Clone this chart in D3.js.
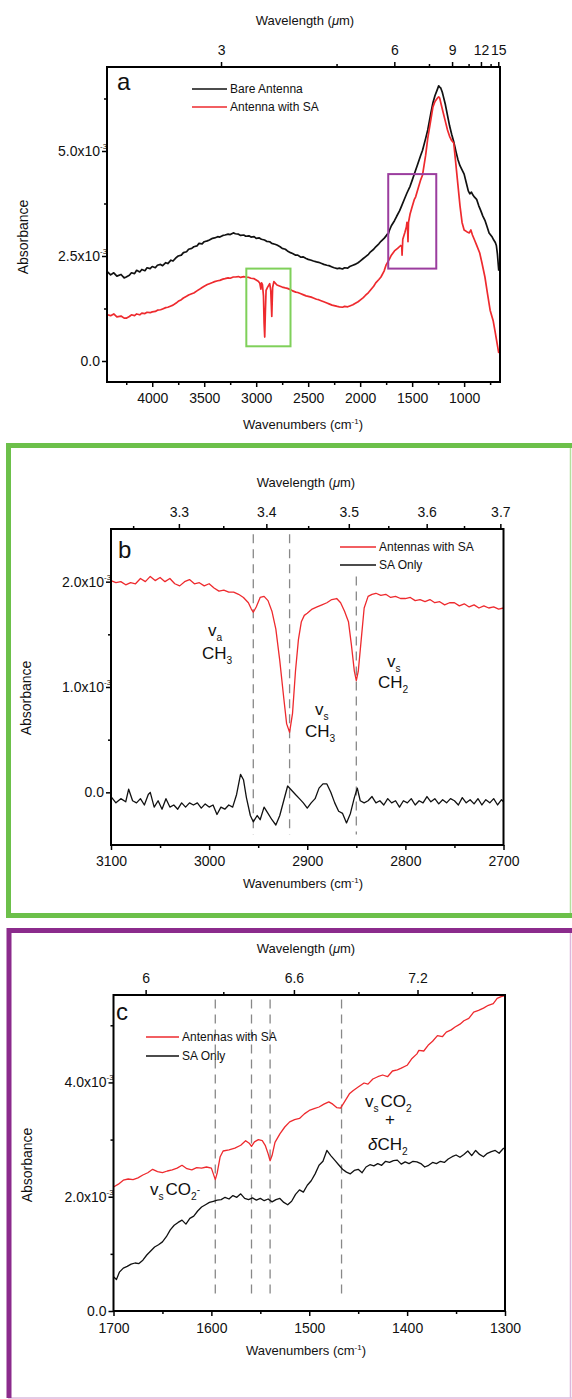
<!DOCTYPE html>
<html>
<head>
<meta charset="utf-8">
<script src="https://cdn.jsdelivr.net/npm/d3@7"></script>
<style>
body { margin: 0; background: #fff; }
svg { display: block; }
</style>
</head>
<body>
<script>
// values in units of 1e-3 absorbance, x = wavenumber (cm-1)
var aBare = [[4430,2.12],[4400,2.05],[4370,2.10],[4340,2.02],[4300,2.06],[4270,1.98],[4250,2.00],[4220,2.04],[4200,2.10],[4170,2.08],[4150,2.16],[4120,2.12],[4100,2.18],[4070,2.15],[4050,2.22],[4020,2.20],[4000,2.25],[3970,2.22],[3950,2.28],[3920,2.30],[3900,2.27],[3870,2.34],[3850,2.32],[3820,2.40],[3800,2.38],[3770,2.46],[3750,2.50],[3720,2.52],[3700,2.58],[3670,2.60],[3650,2.66],[3620,2.68],[3600,2.72],[3570,2.74],[3550,2.80],[3520,2.79],[3500,2.84],[3470,2.86],[3450,2.88],[3420,2.92],[3400,2.93],[3370,2.96],[3350,2.95],[3320,2.99],[3300,3.00],[3270,3.02],[3250,3.01],[3220,3.05],[3200,3.03],[3170,3.02],[3150,2.99],[3120,3.00],[3100,2.97],[3070,2.98],[3050,2.95],[3020,2.96],[3000,2.92],[2970,2.93],[2950,2.90],[2920,2.88],[2900,2.85],[2870,2.84],[2850,2.80],[2820,2.78],[2800,2.76],[2770,2.72],[2750,2.68],[2720,2.66],[2700,2.62],[2670,2.58],[2650,2.56],[2620,2.52],[2600,2.52],[2570,2.47],[2550,2.48],[2520,2.44],[2500,2.42],[2470,2.40],[2450,2.38],[2420,2.36],[2400,2.35],[2370,2.32],[2350,2.30],[2320,2.28],[2300,2.27],[2270,2.24],[2250,2.22],[2220,2.20],[2200,2.21],[2170,2.19],[2150,2.22],[2120,2.21],[2100,2.25],[2070,2.28],[2050,2.30],[2020,2.34],[2000,2.38],[1970,2.44],[1950,2.48],[1920,2.54],[1900,2.60],[1870,2.66],[1850,2.72],[1820,2.79],[1800,2.85],[1770,2.92],[1750,2.98],[1740,3.02],[1730,3.02],[1720,3.10],[1700,3.22],[1670,3.34],[1650,3.44],[1620,3.58],[1600,3.70],[1570,3.88],[1550,4.00],[1520,4.16],[1500,4.30],[1470,4.52],[1450,4.66],[1420,4.88],[1400,5.02],[1370,5.30],[1350,5.50],[1320,5.90],[1300,6.15],[1280,6.32],[1260,6.45],[1245,6.55],[1235,6.52],[1225,6.50],[1210,6.40],[1200,6.30],[1180,6.10],[1160,5.85],[1140,5.60],[1120,5.40],[1100,5.22],[1080,5.00],[1060,4.80],[1040,4.65],[1020,4.55],[1000,4.45],[980,4.25],[960,4.05],[945,3.98],[930,4.02],[915,3.95],[900,3.90],[880,3.85],[860,3.70],[840,3.58],[820,3.45],[800,3.35],[780,3.20],[760,3.05],[745,3.00],[730,2.95],[715,2.88],[700,2.82],[690,2.75],[680,2.55],[667,2.15]];

var aWithSA = [[4430,1.10],[4400,1.08],[4370,1.12],[4340,1.05],[4300,1.07],[4270,1.02],[4250,1.02],[4220,1.06],[4200,1.10],[4170,1.08],[4150,1.12],[4120,1.10],[4100,1.14],[4070,1.13],[4050,1.16],[4020,1.15],[4000,1.17],[3970,1.18],[3950,1.21],[3920,1.22],[3900,1.24],[3870,1.27],[3850,1.28],[3820,1.31],[3800,1.33],[3770,1.38],[3750,1.42],[3720,1.46],[3700,1.50],[3670,1.54],[3650,1.57],[3620,1.60],[3600,1.62],[3570,1.67],[3550,1.70],[3520,1.75],[3500,1.78],[3470,1.82],[3450,1.84],[3420,1.87],[3400,1.89],[3370,1.91],[3350,1.92],[3320,1.95],[3300,1.96],[3270,1.98],[3250,1.97],[3220,2.00],[3200,2.00],[3170,2.01],[3150,1.99],[3120,2.01],[3100,2.00],[3070,1.99],[3050,1.97],[3020,1.96],[3000,1.93],[2980,1.90],[2965,1.85],[2955,1.71],[2948,1.86],[2940,1.82],[2930,1.55],[2924,0.90],[2918,0.57],[2912,1.15],[2905,1.68],[2890,1.76],[2870,1.84],[2860,1.68],[2850,1.06],[2842,1.75],[2830,1.89],[2800,1.81],[2770,1.78],[2750,1.76],[2720,1.74],[2700,1.73],[2670,1.70],[2650,1.67],[2620,1.64],[2600,1.63],[2570,1.60],[2550,1.58],[2520,1.55],[2500,1.54],[2470,1.52],[2450,1.50],[2420,1.47],[2400,1.46],[2370,1.43],[2350,1.41],[2320,1.38],[2300,1.36],[2270,1.33],[2250,1.32],[2220,1.30],[2200,1.29],[2170,1.28],[2150,1.30],[2120,1.29],[2100,1.31],[2070,1.34],[2050,1.37],[2020,1.41],[2000,1.45],[1970,1.51],[1950,1.56],[1920,1.63],[1900,1.69],[1870,1.78],[1850,1.86],[1820,1.94],[1800,2.00],[1770,2.14],[1750,2.29],[1720,2.42],[1700,2.52],[1670,2.62],[1640,2.68],[1610,2.75],[1600,2.72],[1597,2.52],[1590,2.90],[1570,3.06],[1555,3.20],[1550,3.30],[1545,3.24],[1540,2.84],[1535,3.30],[1520,3.50],[1500,3.67],[1480,3.84],[1466,3.91],[1450,4.05],[1420,4.30],[1400,4.43],[1370,4.90],[1350,5.30],[1320,5.75],[1300,6.05],[1280,6.18],[1260,6.25],[1245,6.29],[1235,6.26],[1220,6.10],[1200,5.90],[1180,5.70],[1160,5.50],[1140,5.35],[1120,5.25],[1100,5.19],[1080,4.70],[1060,4.20],[1040,3.70],[1020,3.30],[1000,3.12],[975,3.08],[950,3.05],[935,3.12],[920,3.00],[900,2.88],[880,2.76],[850,2.57],[830,2.35],[800,2.00],[775,1.60],[750,1.21],[720,0.95],[700,0.67],[685,0.45],[667,0.19]];

var bWithSA = [[3100,2.01],[3095,1.99],[3090,2.00],[3085,1.97],[3080,1.99],[3075,1.98],[3070,2.03],[3065,2.00],[3060,2.05],[3055,2.01],[3050,2.04],[3045,2.00],[3040,2.03],[3035,1.98],[3030,1.96],[3025,2.00],[3020,2.02],[3015,1.98],[3010,1.99],[3005,1.96],[3000,1.98],[2995,1.94],[2990,1.91],[2985,1.92],[2980,1.90],[2975,1.90],[2970,1.88],[2965,1.85],[2960,1.80],[2957,1.74],[2955,1.71],[2952,1.76],[2948,1.85],[2944,1.86],[2940,1.82],[2936,1.72],[2932,1.55],[2928,1.25],[2924,0.90],[2921,0.65],[2918,0.57],[2915,0.75],[2912,1.15],[2909,1.45],[2906,1.62],[2903,1.68],[2900,1.70],[2895,1.74],[2890,1.76],[2885,1.78],[2880,1.80],[2875,1.83],[2870,1.84],[2866,1.80],[2862,1.72],[2858,1.62],[2855,1.40],[2852,1.15],[2850,1.06],[2848,1.15],[2845,1.45],[2842,1.75],[2838,1.86],[2834,1.88],[2830,1.89],[2825,1.87],[2820,1.88],[2815,1.85],[2810,1.86],[2805,1.84],[2800,1.84],[2795,1.85],[2790,1.82],[2785,1.83],[2780,1.81],[2775,1.83],[2770,1.80],[2765,1.81],[2760,1.78],[2755,1.80],[2750,1.80],[2745,1.77],[2740,1.79],[2735,1.76],[2730,1.78],[2725,1.75],[2720,1.77],[2715,1.75],[2710,1.76],[2705,1.74],[2700,1.75]];

var bSAOnly = [[3100,-0.04],[3095,-0.10],[3090,-0.06],[3085,-0.09],[3082,0.03],[3078,-0.08],[3074,-0.10],[3070,-0.06],[3066,-0.12],[3062,-0.02],[3060,0.00],[3056,-0.14],[3052,-0.08],[3048,-0.16],[3044,-0.06],[3040,-0.14],[3036,-0.12],[3032,-0.16],[3028,-0.10],[3024,-0.14],[3020,-0.10],[3016,-0.12],[3012,-0.10],[3008,-0.15],[3004,-0.11],[3000,-0.14],[2996,-0.12],[2992,-0.21],[2988,-0.14],[2984,-0.16],[2980,-0.12],[2976,-0.14],[2972,-0.02],[2968,0.17],[2965,0.12],[2962,-0.05],[2958,-0.22],[2955,-0.28],[2951,-0.22],[2948,-0.26],[2944,-0.14],[2940,-0.20],[2936,-0.26],[2932,-0.31],[2928,-0.22],[2924,-0.08],[2920,0.06],[2916,0.02],[2912,-0.02],[2908,-0.06],[2904,-0.10],[2900,-0.15],[2896,-0.10],[2892,-0.06],[2888,0.04],[2884,0.08],[2880,0.08],[2876,0.00],[2872,-0.10],[2868,-0.18],[2864,-0.20],[2860,-0.29],[2856,-0.20],[2852,-0.05],[2849,0.04],[2846,-0.08],[2842,-0.10],[2838,-0.08],[2834,-0.04],[2830,-0.10],[2826,-0.08],[2822,-0.12],[2818,-0.06],[2814,-0.10],[2810,-0.08],[2806,-0.14],[2802,-0.08],[2798,-0.10],[2794,-0.06],[2790,-0.12],[2786,-0.08],[2782,-0.10],[2778,-0.04],[2774,-0.09],[2770,-0.06],[2766,-0.11],[2762,-0.07],[2758,-0.10],[2754,-0.06],[2750,-0.08],[2746,-0.12],[2742,-0.05],[2738,-0.10],[2734,-0.07],[2730,-0.11],[2726,-0.06],[2722,-0.12],[2718,-0.07],[2714,-0.10],[2710,-0.06],[2706,-0.12],[2702,-0.07],[2700,-0.09]];

var cWithSA = [[1700,2.17],[1695,2.22],[1690,2.29],[1685,2.31],[1680,2.30],[1675,2.33],[1670,2.38],[1665,2.42],[1660,2.48],[1655,2.44],[1650,2.42],[1645,2.45],[1640,2.47],[1635,2.50],[1630,2.55],[1625,2.49],[1620,2.47],[1615,2.51],[1610,2.50],[1605,2.52],[1600,2.50],[1598,2.40],[1596,2.30],[1594,2.42],[1591,2.70],[1588,2.80],[1582,2.82],[1576,2.85],[1570,2.90],[1565,2.98],[1561,2.93],[1559,2.88],[1556,2.96],[1552,3.00],[1548,2.98],[1545,2.90],[1542,2.75],[1540,2.63],[1538,2.72],[1535,2.95],[1530,3.10],[1525,3.22],[1520,3.31],[1515,3.35],[1510,3.37],[1505,3.45],[1500,3.51],[1495,3.54],[1490,3.57],[1485,3.62],[1480,3.66],[1476,3.62],[1472,3.56],[1468,3.55],[1464,3.66],[1459,3.80],[1455,3.86],[1450,3.92],[1444,3.99],[1440,3.97],[1435,4.06],[1430,4.10],[1425,4.13],[1420,4.10],[1415,4.20],[1410,4.22],[1406,4.25],[1400,4.30],[1395,4.42],[1390,4.50],[1388,4.56],[1383,4.55],[1378,4.66],[1374,4.72],[1369,4.82],[1364,4.80],[1360,4.88],[1355,4.92],[1351,4.97],[1346,5.02],[1342,5.08],[1337,5.12],[1332,5.23],[1327,5.26],[1322,5.30],[1317,5.35],[1312,5.38],[1308,5.47],[1304,5.50],[1300,5.52]];

var cSAOnly = [[1700,0.60],[1697,0.55],[1694,0.68],[1690,0.75],[1686,0.78],[1682,0.82],[1678,0.84],[1674,0.83],[1670,0.89],[1666,0.98],[1662,1.05],[1658,1.12],[1654,1.16],[1650,1.21],[1646,1.30],[1642,1.42],[1638,1.50],[1634,1.55],[1630,1.59],[1626,1.52],[1622,1.62],[1618,1.66],[1614,1.75],[1610,1.82],[1606,1.86],[1602,1.90],[1598,1.92],[1594,1.94],[1590,1.95],[1586,1.99],[1582,1.96],[1578,2.02],[1574,1.99],[1570,2.05],[1566,1.97],[1562,1.95],[1558,1.98],[1554,1.94],[1550,1.97],[1546,1.93],[1542,1.96],[1538,1.91],[1534,1.95],[1530,1.97],[1526,1.90],[1522,1.86],[1518,1.92],[1514,2.04],[1510,2.12],[1506,2.08],[1502,2.20],[1498,2.28],[1494,2.40],[1490,2.55],[1486,2.62],[1482,2.81],[1478,2.72],[1474,2.64],[1470,2.56],[1466,2.48],[1462,2.43],[1458,2.40],[1454,2.46],[1450,2.48],[1446,2.42],[1442,2.52],[1438,2.56],[1434,2.54],[1430,2.58],[1426,2.55],[1422,2.62],[1418,2.60],[1414,2.63],[1410,2.64],[1406,2.57],[1402,2.61],[1398,2.58],[1394,2.62],[1390,2.61],[1386,2.58],[1382,2.52],[1378,2.55],[1374,2.60],[1370,2.58],[1366,2.62],[1362,2.60],[1358,2.66],[1354,2.70],[1350,2.73],[1346,2.69],[1342,2.74],[1338,2.80],[1334,2.72],[1330,2.81],[1326,2.74],[1322,2.70],[1318,2.76],[1314,2.79],[1310,2.81],[1306,2.76],[1302,2.84],[1300,2.86]];

// ticks
var aWnMajor = [4000, 3500, 3000, 2500, 2000, 1500, 1000];
var aWnMinor = [4250, 3750, 3250, 2750, 2250, 1750, 1250, 750];
var aAbsMajor = [0, 2.5, 5.0];
var aAbsMinor = [1.25, 3.75, 6.25];
var aLamMajor = [3, 6, 9, 12, 15];
var aLamMinor = [4.5, 7.5, 10.5, 13.5];

var bWnMajor = [3100, 3000, 2900, 2800, 2700];
var bWnMinor = [3050, 2950, 2850, 2750];
var bAbsMajor = [0, 1.0, 2.0];
var bAbsMinor = [0.5, 1.5];
var bLamMajor = [3.3, 3.4, 3.5, 3.6, 3.7];
var bLamMinor = [3.25, 3.35, 3.45, 3.55, 3.65];
var bPeaks = [[2955, 2.45], [2918, 2.45], [2850, 2.05]]; // wavenumber, top of dashed guide

var cWnMajor = [1700, 1600, 1500, 1400, 1300];
var cWnMinor = [1650, 1550, 1450, 1350];
var cAbsMajor = [0, 2.0, 4.0];
var cAbsMinor = [1.0, 3.0, 5.0];
var cLamMajor = [6, 6.6, 7.2];
var cLamMinor = [6.3, 6.9, 7.5];
var cPeaks = [[1596, 5.45], [1559, 5.45], [1540, 5.45], [1467, 5.45]];

var FONT = '"Liberation Sans", Arial, sans-serif';
var RED = "#ee2a2e";
var BLK = "#111";

var svg = d3.select("body").append("svg").attr("width", 572).attr("height", 1399)
    .style("font-family", FONT);

// coloured frames round panels b and c
function frame(y0, y1, dark, light, thickBottom) {
    var g = svg.append("g");
    g.append("line").attr("x1", 570.5).attr("x2", 570.5).attr("y1", y0).attr("y2", y1)
        .attr("stroke", light).attr("stroke-width", 1.5);
    if (thickBottom) {
        g.append("path").attr("d", "M8.5," + y1 + "V" + (y0 + 2.5) + "H572 M8.5," + (y1 - 2.5) + "H572")
            .attr("fill", "none").attr("stroke", dark).attr("stroke-width", 5);
    } else {
        g.append("line").attr("x1", 8).attr("x2", 572).attr("y1", y1).attr("y2", y1)
            .attr("stroke", light).attr("stroke-width", 1.5);
        g.append("path").attr("d", "M9," + y1 + "V" + (y0 + 2.5) + "H572")
            .attr("fill", "none").attr("stroke", dark).attr("stroke-width", 5);
    }
}
frame(443, 918, "#6cc04a", "#b4e09e", true);
frame(928, 1398, "#8b2b8c", "#dcb8dc", false);

function richText(g, x, y, parts, size) {
    var t = g.append("text").attr("x", x).attr("y", y).attr("font-size", size).attr("fill", "#111");
    parts.forEach(function(p) {
        var s = t.append("tspan").text(p.t);
        if (p.sub) s.attr("font-size", size * 0.6).attr("dy", size * 0.3);
        if (p.up) s.attr("font-size", size * 0.6).attr("dy", -size * 0.45);
        if (p.back) s.attr("dy", p.back);
        if (p.it) s.attr("font-style", "italic");
        if (p.dx) s.attr("dx", p.dx);
    });
    return t;
}

function panel(c) {
    var x = d3.scaleLinear().domain(c.xDom).range([c.left, c.right]);
    var y = d3.scaleLinear().domain(c.yDom).range([c.bottom, c.top]);
    var g = svg.append("g");

    // bottom axis
    var bx = g.append("g").attr("transform", "translate(0," + c.bottom + ")")
        .call(d3.axisBottom(x).tickValues(c.wnMajor).tickSize(5).tickPadding(c.pad).tickFormat(d3.format("d")));
    g.append("g").attr("transform", "translate(0," + c.bottom + ")")
        .call(d3.axisBottom(x).tickValues(c.wnMinor).tickSize(3).tickFormat(""));
    // left axis
    g.append("g").attr("transform", "translate(" + c.left + ",0)")
        .call(d3.axisLeft(y).tickValues(c.absMajor).tickSize(5).tickFormat(""));
    g.append("g").attr("transform", "translate(" + c.left + ",0)")
        .call(d3.axisLeft(y).tickValues(c.absMinor).tickSize(3).tickFormat(""));
    g.selectAll(".domain").remove();
    g.selectAll(".tick line").attr("stroke", "#000").attr("stroke-width", 1.5);
    bx.selectAll("text").attr("font-size", 14).attr("font-family", FONT).attr("fill", "#111");

    // left labels with x10^-3
    c.absMajor.forEach(function(v) {
        if (v === 0) {
            g.append("text").attr("x", c.left - 7).attr("y", y(v) + 5).attr("text-anchor", "end")
                .attr("font-size", 14).attr("fill", "#111").text("0.0");
        } else {
            g.append("text").attr("x", c.left - 7).attr("y", y(v) + 5).attr("text-anchor", "end")
                .attr("font-size", 14).attr("fill", "#111").text(d3.format(".1f")(v) + "x10");
            g.append("text").attr("x", c.left - 7).attr("y", y(v) - 2)
                .attr("font-size", 8).attr("fill", "#111").text("-3");
        }
    });

    // top wavelength axis
    var wl = function(l) { return x(1e4 / l); };
    g.selectAll(".tmaj").data(c.lamMajor).enter().append("line")
        .attr("x1", wl).attr("x2", wl).attr("y1", c.top).attr("y2", c.top - 5)
        .attr("stroke", "#000").attr("stroke-width", 1.5);
    g.selectAll(".tmin").data(c.lamMinor).enter().append("line")
        .attr("x1", wl).attr("x2", wl).attr("y1", c.top).attr("y2", c.top - 3)
        .attr("stroke", "#000").attr("stroke-width", 1.5);
    g.selectAll(".tlab").data(c.lamMajor).enter().append("text")
        .attr("x", wl).attr("y", c.top - 12).attr("text-anchor", "middle")
        .attr("font-size", 14).attr("fill", "#111").text(function(d) { return d; });

    // titles
    var tt = g.append("text").attr("x", c.tCx).attr("y", c.top - 42).attr("text-anchor", "middle")
        .attr("font-size", 13).attr("fill", "#111");
    tt.append("tspan").text("Wavelength (");
    tt.append("tspan").attr("font-style", "italic").text("\u03bc");
    tt.append("tspan").text("m)");
    var bt = g.append("text").attr("x", c.bCx).attr("y", c.bottom + c.bTy).attr("text-anchor", "middle")
        .attr("font-size", 13).attr("fill", "#111");
    bt.append("tspan").text("Wavenumbers (cm");
    bt.append("tspan").attr("font-size", 8).attr("dy", -5).text("-1");
    bt.append("tspan").attr("dy", 5).text(")");
    g.append("text").attr("transform", "translate(" + c.yTx + "," + c.yTy + ") rotate(-90)")
        .attr("text-anchor", "middle").attr("font-size", 14).attr("fill", "#111").text("Absorbance");

    // dashed guides
    if (c.peaks) {
        g.selectAll(".pk").data(c.peaks).enter().append("line")
            .attr("x1", function(d) { return x(d[0]); }).attr("x2", function(d) { return x(d[0]); })
            .attr("y1", function(d) { return y(d[1]); }).attr("y2", y(c.dashBottom))
            .attr("stroke", "#888").attr("stroke-width", 1.3).attr("stroke-dasharray", "9,6");
    }

    // spectra
    var line = d3.line().x(function(d) { return x(d[0]); }).y(function(d) { return y(d[1]); });
    c.series.forEach(function(s) {
        g.append("path").datum(s.data).attr("d", line).attr("fill", "none")
            .attr("stroke", s.color).attr("stroke-width", c.lw).attr("stroke-linejoin", "round");
    });

    // frame
    g.append("rect").attr("x", c.left).attr("y", c.top).attr("width", c.right - c.left)
        .attr("height", c.bottom - c.top).attr("fill", "none").attr("stroke", "#000").attr("stroke-width", 2);

    // legend
    c.series.forEach(function(s, i) {
        var ly = c.legY[i];
        g.append("line").attr("x1", c.legX[0]).attr("x2", c.legX[1]).attr("y1", ly).attr("y2", ly)
            .attr("stroke", s.color).attr("stroke-width", 1.3);
        g.append("text").attr("x", c.legX[1] + 3).attr("y", ly + 4).attr("font-size", 12)
            .attr("fill", "#111").text(s.name);
    });

    g.append("text").attr("x", c.letter[0]).attr("y", c.letter[1]).attr("font-size", 24)
        .attr("fill", "#111").text(c.letterText);

    return { g: g, x: x, y: y };
}

var pa = panel({
    left: 107, right: 500, top: 67, bottom: 382, xDom: [4435, 655], yDom: [-0.5, 7.0], pad: 6, lw: 1.7,
    wnMajor: aWnMajor, wnMinor: aWnMinor, absMajor: aAbsMajor, absMinor: aAbsMinor,
    lamMajor: aLamMajor, lamMinor: aLamMinor,
    tCx: 305, bCx: 303, bTy: 47, yTx: 28, yTy: 237,
    series: [{ name: "Bare Antenna", color: BLK, data: aBare }, { name: "Antenna with SA", color: RED, data: aWithSA }],
    legX: [192, 227], legY: [89, 107], letter: [117, 90], letterText: "a"
});
// zoom boxes on panel a
pa.g.append("rect").attr("x", pa.x(3095)).attr("y", pa.y(2.2))
    .attr("width", pa.x(2670) - pa.x(3095)).attr("height", pa.y(0.35) - pa.y(2.2))
    .attr("fill", "none").attr("stroke", "#7fd05a").attr("stroke-width", 2);
pa.g.append("rect").attr("x", pa.x(1730)).attr("y", pa.y(4.45))
    .attr("width", pa.x(1268) - pa.x(1730)).attr("height", pa.y(2.2) - pa.y(4.45))
    .attr("fill", "none").attr("stroke", "#9b3d9e").attr("stroke-width", 2);

var pb = panel({
    left: 111, right: 503.5, top: 529, bottom: 845, xDom: [3100, 2700], yDom: [-0.5, 2.5], pad: 6, lw: 1.3,
    wnMajor: bWnMajor, wnMinor: bWnMinor, absMajor: bAbsMajor, absMinor: bAbsMinor,
    lamMajor: bLamMajor, lamMinor: bLamMinor,
    tCx: 306, bCx: 303, bTy: 43, yTx: 31, yTy: 698,
    peaks: bPeaks, dashBottom: -0.4,
    series: [{ name: "Antennas with SA", color: RED, data: bWithSA }, { name: "SA Only", color: BLK, data: bSAOnly }],
    legX: [340, 376], legY: [547, 565], letter: [118, 558], letterText: "b"
});
richText(pb.g, 208, 636, [{ t: "v" }, { t: "a", sub: true }], 17);
richText(pb.g, 202, 659, [{ t: "CH" }, { t: "3", sub: true }], 17);
richText(pb.g, 315, 715, [{ t: "v" }, { t: "s", sub: true }], 17);
richText(pb.g, 305, 737, [{ t: "CH" }, { t: "3", sub: true }], 17);
richText(pb.g, 387, 667, [{ t: "v" }, { t: "s", sub: true }], 17);
richText(pb.g, 378, 688, [{ t: "CH" }, { t: "2", sub: true }], 17);

var pc = panel({
    left: 113.5, right: 505, top: 995, bottom: 1311, xDom: [1700, 1300], yDom: [0, 5.53], pad: 7, lw: 1.3,
    wnMajor: cWnMajor, wnMinor: cWnMinor, absMajor: cAbsMajor, absMinor: cAbsMinor,
    lamMajor: cLamMajor, lamMinor: cLamMinor,
    tCx: 306, bCx: 306, bTy: 44, yTx: 32, yTy: 1165,
    peaks: cPeaks, dashBottom: 0.23,
    series: [{ name: "Antennas with SA", color: RED, data: cWithSA }, { name: "SA Only", color: BLK, data: cSAOnly }],
    legX: [146, 179], legY: [1037, 1056], letter: [116, 1020], letterText: "c"
});
richText(pc.g, 150, 1195, [{ t: "v" }, { t: "s", sub: true }, { t: "CO", back: -5, dx: 2 }, { t: "2", sub: true }, { t: "-", up: true }], 17);
richText(pc.g, 365, 1107, [{ t: "v" }, { t: "s", sub: true }, { t: "CO", back: -5, dx: 2 }, { t: "2", sub: true }], 17);
pc.g.append("text").attr("x", 390).attr("y", 1125).attr("text-anchor", "middle").attr("font-size", 17)
    .attr("fill", "#111").text("+");
richText(pc.g, 368, 1150, [{ t: "\u03b4", it: true }, { t: "CH" }, { t: "2", sub: true }], 17);
</script>
</body>
</html>
